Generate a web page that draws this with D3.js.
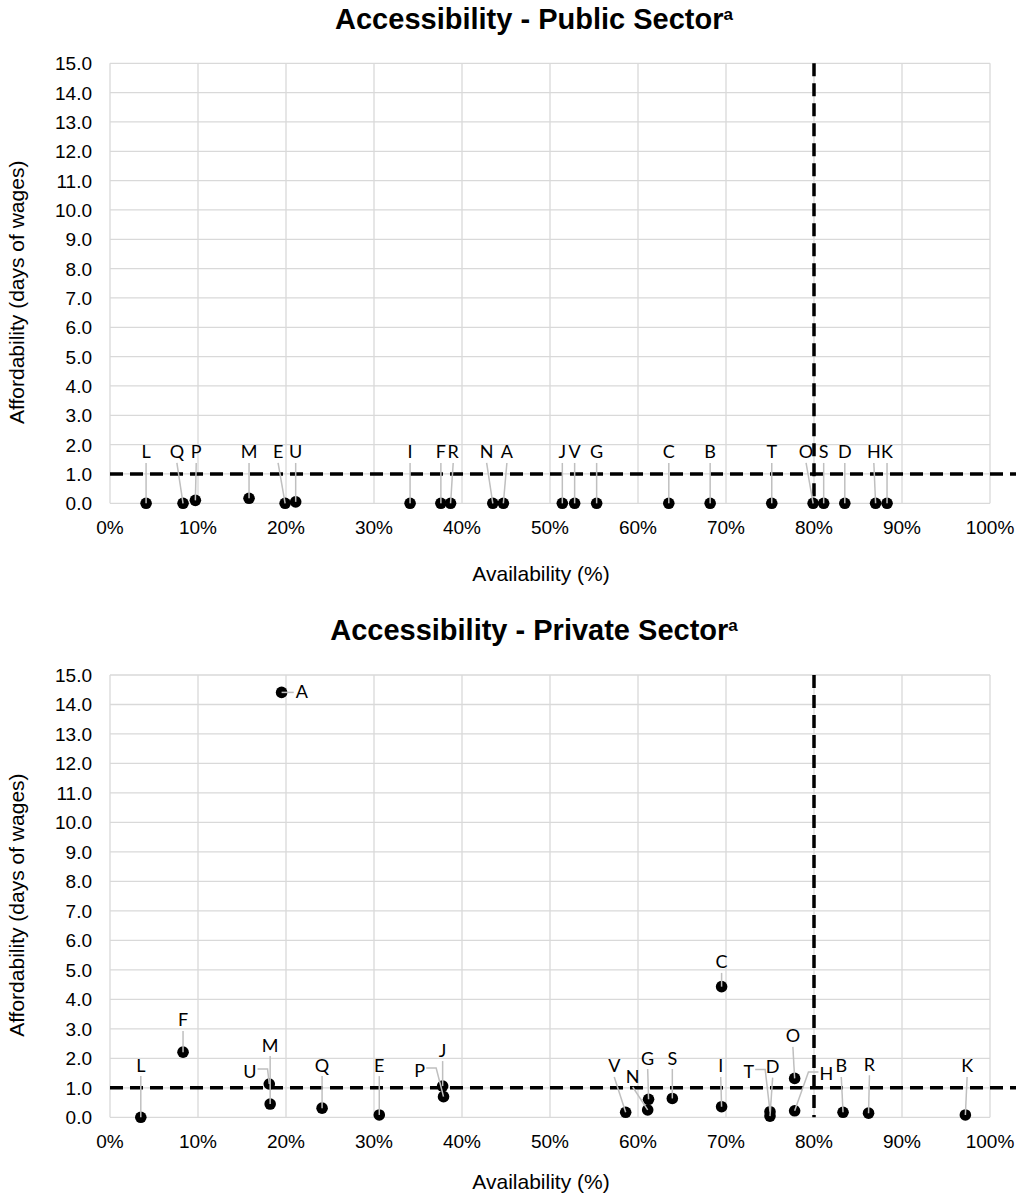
<!DOCTYPE html>
<html>
<head>
<meta charset="utf-8">
<script src="https://cdn.jsdelivr.net/npm/d3@7"></script>
<style>
  body { margin: 0; background: #fff; }
  text { font-family: "Liberation Sans", Arial, sans-serif; fill: #000; }
  .tick-label { font-size: 19px; }
  .axis-title { font-size: 21px; }
  .chart-title { font-size: 29px; font-weight: bold; }
  .pt-label { font-family: Lato, "Open Sans", sans-serif; font-size: 18px; }
  .grid { stroke: #d9d9d9; stroke-width: 1.3; }
  .target { stroke: #000; stroke-width: 3.5; stroke-dasharray: 13 7; }
  .leader { stroke: #bfbfbf; stroke-width: 1.5; fill: none; }
</style>
</head>
<body>
<svg id="chart" width="1032" height="1196"></svg>
<script>
// axis ticks and targets
const xTickValues = [0, 10, 20, 30, 40, 50, 60, 70, 80, 90, 100];
const yTickValues = [0, 1, 2, 3, 4, 5, 6, 7, 8, 9, 10, 11, 12, 13, 14, 15];
const availTarget = 80;
const affordTarget = 1;

// public sector
const publicCodes  = ["L","Q","P","M","E","U","I","F","R","N","A","J","V","G","C","B","T","O","S","D","H","K"];
const publicAvail  = [4.1, 8.3, 9.7, 15.8, 19.9, 21.1, 34.1, 37.6, 38.7, 43.5, 44.7, 51.4, 52.8, 55.3, 63.5, 68.2, 75.2, 79.9, 81.1, 83.5, 87.0, 88.3];
const publicAfford = [0.0, 0.0, 0.1, 0.17, 0.0, 0.05, 0.0, 0.0, 0.0, 0.0, 0.0, 0.0, 0.0, 0.0, 0.0, 0.0, 0.0, 0.0, 0.0, 0.0, 0.0, 0.0];
// where the data labels sit (in data units)
const publicLabelX = [4.1, 7.6, 9.8, 15.8, 19.1, 21.1, 34.1, 37.6, 39.0, 42.8, 45.1, 51.4, 52.8, 55.3, 63.5, 68.2, 75.2, 79.1, 81.1, 83.5, 86.8, 88.3];
const publicLabelY = [1.75, 1.75, 1.75, 1.75, 1.75, 1.75, 1.75, 1.75, 1.75, 1.75, 1.75, 1.75, 1.75, 1.75, 1.75, 1.75, 1.75, 1.75, 1.75, 1.75, 1.75, 1.75];
const publicLeader = publicCodes.map(() => "down");

// private sector
const privateCodes  = ["L","F","M","U","Q","E","J","P","A","V","N","G","S","I","C","T","D","O","H","B","R","K"];
const privateAvail  = [3.5, 8.3, 18.2, 18.1, 24.1, 30.6, 37.8, 37.9, 19.5, 58.6, 61.1, 61.2, 63.9, 69.5, 69.5, 75.0, 75.0, 77.8, 77.8, 83.3, 86.2, 97.2];
const privateAfford = [0.0, 2.21, 0.45, 1.13, 0.31, 0.08, 1.06, 0.70, 14.41, 0.17, 0.25, 0.61, 0.64, 0.36, 4.43, 0.19, 0.04, 1.32, 0.22, 0.17, 0.14, 0.08];
const privateLabelX = [3.5, 8.3, 18.2, 15.9, 24.1, 30.6, 37.8, 35.2, 21.8, 57.3, 59.4, 61.1, 63.9, 69.4, 69.5, 72.6, 75.3, 77.6, 81.4, 83.1, 86.3, 97.4];
const privateLabelY = [1.77, 3.30, 2.45, 1.57, 1.77, 1.77, 2.28, 1.60, 14.43, 1.74, 1.40, 2.01, 2.01, 1.74, 5.27, 1.55, 1.72, 2.76, 1.47, 1.74, 1.80, 1.74];
const privateLeader = ["down","down","down","elbow","down","down","down","elbow","side","down","down","down","down","down","down","elbow","down","down","elbow","down","down","down"];

const svg = d3.select("#chart");

function drawChart(opts) {
    const g = svg.append("g");
    const x = d3.scaleLinear().domain([0, 100]).range([110, 990]);
    const y = d3.scaleLinear().domain([0, 15]).range([opts.bottom, opts.top]);

    // gridlines
    g.selectAll(".gx").data(xTickValues).join("line")
        .attr("class", "grid")
        .attr("x1", d => x(d)).attr("x2", d => x(d))
        .attr("y1", y(0)).attr("y2", y(15));
    g.selectAll(".gy").data(yTickValues).join("line")
        .attr("class", "grid")
        .attr("x1", x(0)).attr("x2", x(100))
        .attr("y1", d => y(d)).attr("y2", d => y(d));

    // tick labels
    g.selectAll(".ty").data(yTickValues).join("text")
        .attr("class", "tick-label")
        .attr("x", 92).attr("y", d => y(d) + 7)
        .attr("text-anchor", "end")
        .text(d => d3.format(".1f")(d));
    g.selectAll(".tx").data(xTickValues).join("text")
        .attr("class", "tick-label")
        .attr("x", d => x(d)).attr("y", y(0) + 31)
        .attr("text-anchor", "middle")
        .text(d => d + "%");

    // target lines
    g.append("line").attr("class", "target")
        .attr("x1", x(0)).attr("x2", 1016)
        .attr("y1", y(affordTarget)).attr("y2", y(affordTarget));
    g.append("line").attr("class", "target")
        .attr("x1", x(availTarget)).attr("x2", x(availTarget))
        .attr("y1", y(15)).attr("y2", y(0));

    const pts = opts.codes.map((c, i) => ({
        code: c,
        px: x(opts.avail[i]), py: y(opts.afford[i]),
        lx: x(opts.labelX[i]), ly: y(opts.labelY[i]),
        leader: opts.leader[i]
    }));

    // points
    g.selectAll(".pt").data(pts).join("circle")
        .attr("cx", d => d.px).attr("cy", d => d.py)
        .attr("r", 5.8).attr("fill", "#000");

    // labels
    const labels = g.selectAll(".pt-label").data(pts).join("text")
        .attr("class", "pt-label")
        .attr("x", d => d.lx).attr("y", d => d.ly + 6.5)
        .attr("text-anchor", "middle")
        .text(d => d.code);
    labels.each(function(d) { d.w = this.getComputedTextLength(); });

    // leader lines
    g.selectAll(".leader").data(pts).join("path")
        .attr("class", "leader")
        .attr("d", d => {
            if (d.leader == "elbow") {
                let left = d.lx < d.px;
                let sx = left ? d.lx + d.w / 2 + 1 : d.lx - d.w / 2 - 1;
                let cx = left ? sx + 10 : sx - 10;
                return `M${sx},${d.ly - 2}H${cx}L${d.px},${d.py}`;
            }
            if (d.leader == "side") {
                return `M${d.px},${d.py}H${d.lx - d.w / 2 - 2}`;
            }
            return `M${d.lx},${d.ly + 11}L${d.px},${d.py}`;
        });

    // titles
    const t = g.append("text").attr("class", "chart-title")
        .attr("x", 534).attr("y", opts.titleY)
        .attr("text-anchor", "middle");
    t.append("tspan").text(opts.title);
    t.append("tspan").attr("font-size", "17px").attr("dy", -9).text("a");

    g.append("text").attr("class", "axis-title")
        .attr("x", 541).attr("y", opts.xTitleY)
        .attr("text-anchor", "middle")
        .text("Availability (%)");
    g.append("text").attr("class", "axis-title")
        .attr("transform", `translate(24,${(y(0) + y(15)) / 2 + 9}) rotate(-90)`)
        .attr("text-anchor", "middle")
        .text("Affordability (days of wages)");
}

drawChart({
    top: 63.3, bottom: 503.3, titleY: 29, xTitleY: 581,
    title: "Accessibility - Public Sector",
    codes: publicCodes, avail: publicAvail, afford: publicAfford,
    labelX: publicLabelX, labelY: publicLabelY, leader: publicLeader
});
drawChart({
    top: 675, bottom: 1117.3, titleY: 640, xTitleY: 1189,
    title: "Accessibility - Private Sector",
    codes: privateCodes, avail: privateAvail, afford: privateAfford,
    labelX: privateLabelX, labelY: privateLabelY, leader: privateLeader
});
</script>
</body>
</html>
